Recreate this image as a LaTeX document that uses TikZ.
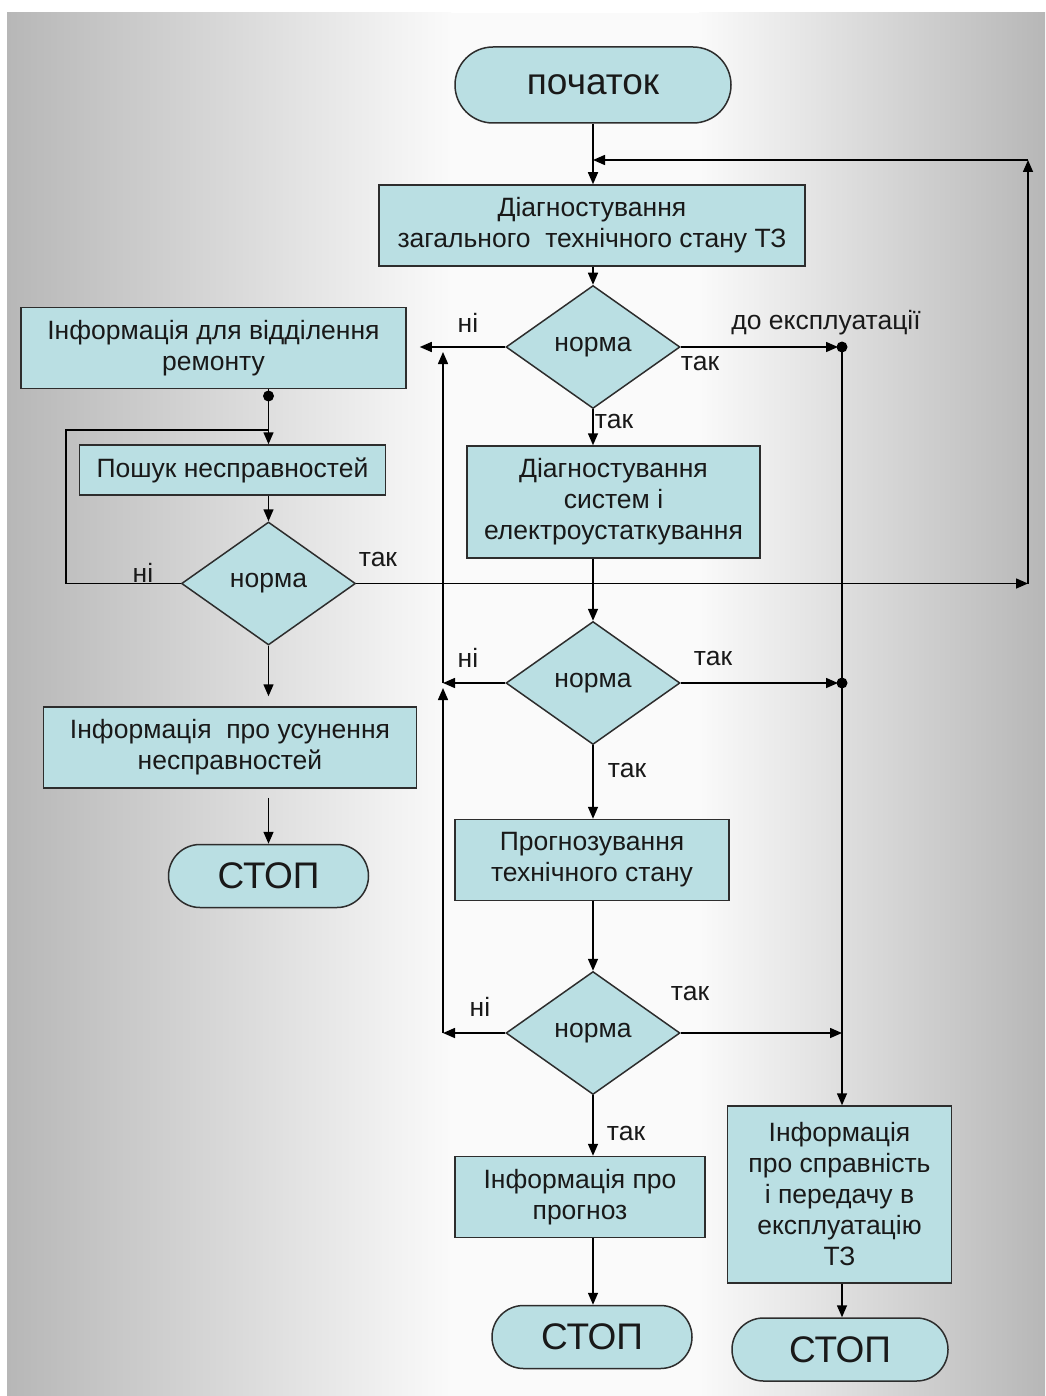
\documentclass[tikz,border=0pt]{standalone}
\usepackage{fontspec}
\setmainfont{Liberation Sans}
\usetikzlibrary{arrows.meta,shapes.geometric,shapes.misc}
\definecolor{boxfill}{RGB}{186,223,227}
\definecolor{bggray}{RGB}{183,183,183}
\definecolor{bgmid}{RGB}{250,250,250}
\definecolor{edgecol}{RGB}{45,45,45}
\definecolor{ink}{RGB}{25,25,25}
\begin{document}
\begin{tikzpicture}[x=1pt,y=-1pt,
  base/.style={draw=edgecol, line width=1.5pt, fill=boxfill, text=ink, inner sep=0pt, align=center,
    font=\fontsize{26.5}{31}\selectfont},
  procbox/.style={base, rectangle},
  term/.style={base, rounded rectangle, font=\fontsize{37}{40}\selectfont},
  dec/.style={base, diamond, aspect=1.4, minimum width=174pt, minimum height=123pt},
  lbl/.style={text=ink, inner sep=0pt, font=\fontsize{26.5}{31}\selectfont},
  ln/.style={draw=black, line width=1.5pt},
  arr/.style={ln, -{Triangle[length=12pt,width=10pt]}},
  dot/.style={fill=black}
]
% background
\fill[white] (0,0) rectangle (1045,1396);
\fill[bgmid] (440,13) rectangle (710,1396);
\shade[left color=bggray, right color=bgmid] (7,13) rectangle (451,1396);
\shade[left color=bgmid, right color=bggray] (699,13) rectangle (1045,1396);
\useasboundingbox (0,0) rectangle (1045,1396);

% main column
\node[term, minimum width=276pt, minimum height=76pt] (start) at (593,85) {початок};
\node[procbox, minimum width=426pt, minimum height=81pt] (d1) at (592,225.5) {Діагностування\\загального\ \ технічного стану ТЗ};
\node[dec] (q1) at (593,347) {норма};
\node[procbox, minimum width=293pt, minimum height=112pt] (d2) at (613.5,502) {Діагностування\\систем і\\електроустаткування};
\node[dec] (q2) at (593,683) {норма};
\node[procbox, minimum width=274pt, minimum height=81pt] (prog) at (592,860) {Прогнозування\\технічного стану};
\node[dec] (q3) at (593,1033) {норма};
\node[procbox, minimum width=250pt, minimum height=81pt] (infp) at (580,1197) {Інформація про\\прогноз};
\node[term, minimum width=200pt, minimum height=63pt] (stop2) at (592,1337) {СТОП};
% right column
\node[procbox, minimum width=224pt, minimum height=177pt] (infg) at (839.5,1194.5) {Інформація\\про справність\\і передачу в\\експлуатацію\\ТЗ};
\node[term, minimum width=216pt, minimum height=63pt] (stop3) at (840,1349.5) {СТОП};
% left column
\node[procbox, minimum width=385pt, minimum height=81pt] (infr) at (213.5,348) {Інформація для відділення\\ремонту};
\node[procbox, minimum width=306pt, minimum height=50pt] (posh) at (232.5,470) {Пошук несправностей};
\node[dec] (q4) at (268.5,583.5) {норма};
\node[procbox, minimum width=373pt, minimum height=81pt] (infx) at (230,747.5) {Інформація\ \ про усунення\\несправностей};
\node[term, minimum width=200pt, minimum height=63pt] (stop1) at (268.5,876) {СТОП};

% helper coordinates
\coordinate (colR) at (842,0);
\coordinate (colL) at (443,0);
\coordinate (fbX) at (1028,0);
\coordinate (loopX) at (66,0);
\coordinate (fbY) at (0,160);
\coordinate (loopY) at (0,430);
\coordinate (dotL) at (268.5,396);

% feedback loop
\draw[arr] (start.south) -- (start.south |- d1.north);
\draw[arr] (q4.east) -- (q4.east -| fbX);
\draw[arr] (q4.east -| fbX) -- (fbX |- fbY);
\draw[arr] (fbX |- fbY) -- (start.south |- fbY);

% main flow
\draw[arr] (q1.north |- d1.south) -- (q1.north);
\draw[arr, shorten >=13pt] (q1.west) -- (q1.west -| infr.east);
\draw[arr, shorten >=4pt] (q1.east) -- (q1.east -| colR);
\fill[dot] (q1.east -| colR) circle (5.5pt);
\draw[arr] (q1.east -| colR) -- (colR |- infg.north);
\draw[arr] (q1.south) -- (q1.south |- d2.north);
\draw[arr] (q2.north |- d2.south) -- (q2.north);
\draw[arr] (q2.west) -- (q2.west -| colL);
\draw[arr, shorten >=4pt] (q2.east) -- (q2.east -| colR);
\fill[dot] (q2.east -| colR) circle (5.5pt);
\draw[arr] (q2.south) -- (q2.south |- prog.north);
\draw[arr] (q3.north |- prog.south) -- (q3.north);
\draw[arr] (q3.west) -- (q3.west -| colL);
\draw[arr] (q3.east) -- (q3.east -| colR);
\draw[arr, shorten >=5pt] (q3.west -| colL) -- (q2.west -| colL);
\draw[arr, shorten >=5pt] (q2.west -| colL) -- (q1.west -| colL);
\draw[arr] (q3.south) -- (q3.south |- infp.north);
\draw[arr] (q3.south |- infp.south) -- (q3.south |- stop2.north);
\draw[arr] (colR |- infg.south) -- (colR |- stop3.north);

% left flow
\draw[ln] (infr.south -| dotL) -- (dotL);
\fill[dot] (dotL) circle (5.5pt);
\draw[arr] (dotL) -- (dotL |- posh.north);
\draw[ln] (q4.west) -- (q4.west -| loopX) -- (loopX |- loopY) -- (dotL |- loopY);
\draw[arr] (q4.north |- posh.south) -- (q4.north);
\draw[arr, shorten >=10pt] (q4.south) -- (q4.south |- infx.north);
\draw[arr, shorten <=9pt] (q4.south |- infx.south) -- (q4.south |- stop1.north);

% labels
\node[lbl] (l1) at (468,323) {ні};
\node[lbl] (l2) at (826,323) {до експлуатації};
\node[lbl] (l3) at (700,363) {так};
\node[lbl] (l4) at (614,421) {так};
\node[lbl] (l5) at (468,658) {ні};
\node[lbl] (l6) at (713,658) {так};
\node[lbl] (l7) at (627,770) {так};
\node[lbl] (l8) at (480,1007) {ні};
\node[lbl] (l9) at (690,993) {так};
\node[lbl] (l10) at (626,1133) {так};
\node[lbl] (l11) at (143,573) {ні};
\node[lbl] (l12) at (378,559) {так};
\end{tikzpicture}
\end{document}
